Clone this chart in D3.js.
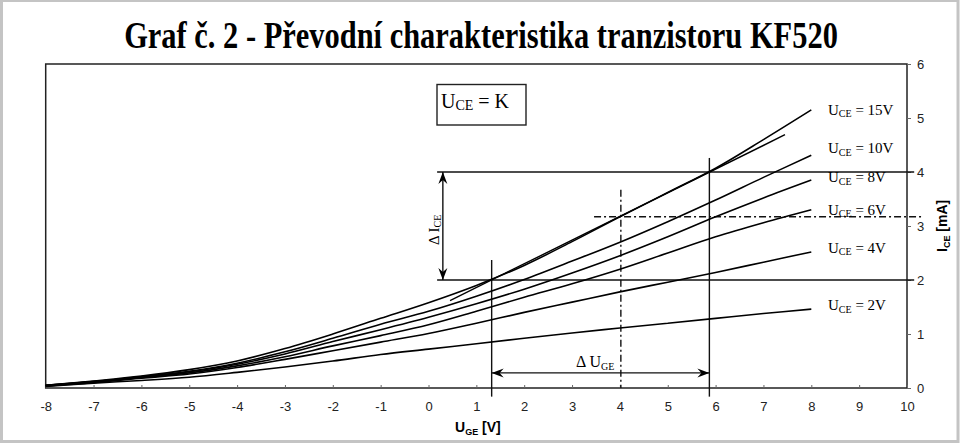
<!DOCTYPE html>
<html>
<head>
<meta charset="utf-8">
<script src="https://cdn.jsdelivr.net/npm/d3@7"></script>
<style>
body { margin: 0; background: #fff; }
svg { display: block; }
</style>
</head>
<body>
<svg id="chart" width="960" height="444"></svg>
<script>
// U_GE [V] points where the curves were read
var uge = [-8, -7, -6, -5, -4, -3, -2, -1, 0, 1, 2, 3, 4, 5, 6, 7, 8];

// I_CE [mA] for each U_CE
var ice15 = [0.05, 0.13, 0.22, 0.34, 0.50, 0.73, 1.00, 1.29, 1.58, 1.90, 2.27, 2.71, 3.17, 3.62, 4.07, 4.60, 5.15];
var ice10 = [0.05, 0.12, 0.21, 0.31, 0.46, 0.67, 0.92, 1.18, 1.42, 1.70, 2.01, 2.35, 2.70, 3.08, 3.48, 3.90, 4.31];
var ice8  = [0.05, 0.12, 0.20, 0.30, 0.44, 0.63, 0.86, 1.08, 1.31, 1.56, 1.83, 2.13, 2.45, 2.80, 3.17, 3.52, 3.85];
var ice6  = [0.04, 0.11, 0.19, 0.28, 0.41, 0.58, 0.78, 0.97, 1.17, 1.42, 1.68, 1.93, 2.20, 2.50, 2.80, 3.06, 3.30];
var ice4  = [0.04, 0.10, 0.18, 0.26, 0.38, 0.53, 0.69, 0.85, 1.01, 1.20, 1.40, 1.59, 1.78, 1.96, 2.14, 2.33, 2.52];
var ice2  = [0.03, 0.09, 0.14, 0.20, 0.29, 0.39, 0.50, 0.62, 0.72, 0.82, 0.92, 1.02, 1.11, 1.20, 1.29, 1.38, 1.46];

var uceNames = ["15V", "10V", "8V", "6V", "4V", "2V"];

// secant line through the two working points on the 15V curve
var secantU = [0.45, 7.45];
var secantI = [1.62, 4.69];

// construction: delta U_GE between the two points, delta I_CE between 2 and 4 mA
var pointU = [1.32, 5.87];
var pointI = [2, 4];
var workU = 4.02;
var workI = 3.17;

var xTicks = [-8, -7, -6, -5, -4, -3, -2, -1, 0, 1, 2, 3, 4, 5, 6, 7, 8, 9, 10];
var yTicks = [0, 1, 2, 3, 4, 5, 6];

var svg = d3.select("#chart");

var x = d3.scaleLinear().domain([-8, 10]).range([45.7, 907]);
var y = d3.scaleLinear().domain([0, 6]).range([388, 64]);

// outer grey frame
svg.append("rect")
	.attr("x", 1.5).attr("y", 0.5)
	.attr("width", 956.5).attr("height", 441)
	.attr("fill", "none")
	.attr("stroke", "#c4c4c4")
	.attr("stroke-width", 3);

// title, squeezed sideways like the condensed original
var title = svg.append("text")
	.attr("text-anchor", "middle")
	.attr("font-family", "Liberation Serif, Times New Roman, serif")
	.attr("font-weight", "bold")
	.attr("font-size", 37)
	.text("Graf č. 2 - Převodní charakteristika tranzistoru KF520");
var tw = title.node().getComputedTextLength();
title.attr("transform", "translate(481,48) scale(" + (714 / tw) + ",1)");

var defs = svg.append("defs");
defs.append("marker")
	.attr("id", "arrow")
	.attr("viewBox", "-12 -5 13 10")
	.attr("refX", 0).attr("refY", 0)
	.attr("markerWidth", 13).attr("markerHeight", 10)
	.attr("markerUnits", "userSpaceOnUse")
	.attr("orient", "auto-start-reverse")
	.append("path")
	.attr("d", "M0,0 L-12,-4.5 L-8,0 L-12,4.5 Z")
	.attr("fill", "#000");

// plot frame
svg.append("rect")
	.attr("x", x(-8)).attr("y", y(6))
	.attr("width", x(10) - x(-8)).attr("height", y(0) - y(6))
	.attr("fill", "none")
	.attr("stroke", "#222")
	.attr("stroke-width", 1.5);

// axes
var fmt = function(d) { return String(d); };
var xAxis = svg.append("g")
	.attr("transform", "translate(0," + y(0) + ")")
	.call(d3.axisBottom(x).tickValues(xTicks).tickSizeInner(-3).tickSizeOuter(0).tickPadding(14).tickFormat(fmt));
var yAxis = svg.append("g")
	.attr("transform", "translate(" + x(10) + ",0)")
	.call(d3.axisRight(y).tickValues(yTicks).tickSizeInner(4).tickSizeOuter(0).tickPadding(6).tickFormat(fmt));
[xAxis, yAxis].forEach(function(a) {
	a.select(".domain").remove();
	a.selectAll("text")
		.attr("font-family", "Liberation Sans, Arial, sans-serif")
		.attr("font-size", 13)
		.attr("fill", "#222");
	a.selectAll("line").attr("stroke", "#666");
});

// axis titles
var xt = svg.append("text")
	.attr("x", 455).attr("y", 432)
	.attr("font-family", "Liberation Sans, Arial, sans-serif")
	.attr("font-weight", "bold")
	.attr("font-size", 14);
xt.append("tspan").text("U");
xt.append("tspan").attr("font-size", 9).attr("dy", 3).text("GE");
xt.append("tspan").attr("dy", -3).text(" [V]");

var yt = svg.append("text")
	.attr("transform", "translate(947,252) rotate(-90)")
	.attr("font-family", "Liberation Sans, Arial, sans-serif")
	.attr("font-weight", "bold")
	.attr("font-size", 14);
yt.append("tspan").text("I");
yt.append("tspan").attr("font-size", 9).attr("dy", 3).text("CE");
yt.append("tspan").attr("dy", -3).text(" [mA]");

// construction lines
var cons = svg.append("g").attr("stroke", "#111").attr("stroke-width", 1.4).attr("fill", "none");
function seg(u0, i0, u1, i1) {
	return cons.append("line")
		.attr("x1", x(u0)).attr("y1", y(i0))
		.attr("x2", x(u1)).attr("y2", y(i1));
}
pointI.forEach(function(i) { seg(0.18, i, 10.15, i); });
seg(pointU[0], 2.37, pointU[0], -0.16);
seg(pointU[1], 4.26, pointU[1], -0.16);
seg(workU, 3.67, workU, 0).attr("stroke-dasharray", "7,3,2,3");
seg(3.46, workI, 10.31, workI).attr("stroke-dasharray", "7,3,2,3");
seg(0.30, pointI[0], 0.30, pointI[1])
	.attr("marker-start", "url(#arrow)").attr("marker-end", "url(#arrow)");
seg(pointU[0], 0.28, pointU[1], 0.28)
	.attr("marker-start", "url(#arrow)").attr("marker-end", "url(#arrow)");

// curves
var series = [ice15, ice10, ice8, ice6, ice4, ice2];
var line = d3.line()
	.x(function(d, i) { return x(uge[i]); })
	.y(function(d) { return y(d); })
	.curve(d3.curveCatmullRom.alpha(0.5));

svg.append("g").selectAll("path")
	.data(series)
	.enter().append("path")
	.attr("d", line)
	.attr("fill", "none")
	.attr("stroke", "#000")
	.attr("stroke-width", 1.6);

svg.append("line")
	.attr("x1", x(secantU[0])).attr("y1", y(secantI[0]))
	.attr("x2", x(secantU[1])).attr("y2", y(secantI[1]))
	.attr("stroke", "#000").attr("stroke-width", 1.4);

// labels
var serif = "Liberation Serif, Times New Roman, serif";
var nudge = [0, -7, -3, 0, -4, -4];
series.forEach(function(s, k) {
	var t = svg.append("text")
		.attr("x", 828)
		.attr("y", y(s[s.length - 1]) + nudge[k] + 5)
		.attr("font-family", serif)
		.attr("font-size", 15);
	t.append("tspan").text("U");
	t.append("tspan").attr("font-size", 10).attr("dy", 2.5).text("CE");
	t.append("tspan").attr("dy", -2.5).text(" = " + uceNames[k]);
});

// U_CE = K box
svg.append("rect")
	.attr("x", 437).attr("y", 84.5)
	.attr("width", 89).attr("height", 40.5)
	.attr("fill", "#fff")
	.attr("stroke", "#222")
	.attr("stroke-width", 1.4);
var kt = svg.append("text")
	.attr("x", 441).attr("y", 107.5)
	.attr("font-family", serif)
	.attr("font-size", 20);
kt.append("tspan").text("U");
kt.append("tspan").attr("font-size", 14).attr("dy", 2).text("CE");
kt.append("tspan").attr("dy", -2).text(" = K");

// delta labels
var du = svg.append("text")
	.attr("x", 576).attr("y", 367)
	.attr("font-family", serif)
	.attr("font-size", 16);
du.append("tspan").text("Δ  U");
du.append("tspan").attr("font-size", 10).attr("dy", 3).text("GE");

var di = svg.append("text")
	.attr("transform", "translate(439,245) rotate(-90)")
	.attr("font-family", serif)
	.attr("font-size", 15);
di.append("tspan").text("Δ I");
di.append("tspan").attr("font-size", 10).attr("dy", 2).text("CE");
</script>
</body>
</html>
